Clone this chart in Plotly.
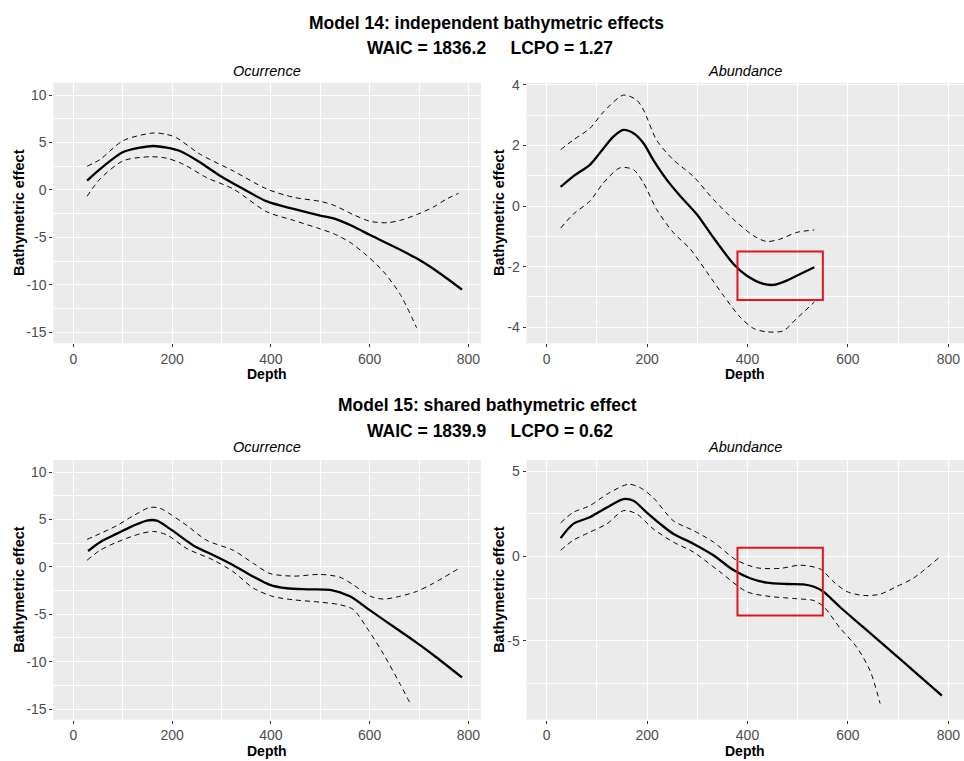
import plotly.graph_objects as go

W, H = 964, 761

# ---------------- data ----------------
# Model 14 - Ocurrence
m14_occ_mean_x = [28, 54, 101, 135, 162, 189, 216, 257, 297, 338, 392, 446, 500, 527, 567, 601, 662, 695, 729, 756, 787]
m14_occ_mean_y = [0.98, 2.2, 4.0, 4.46, 4.63, 4.46, 4.1, 2.9, 1.5, 0.28, -1.2, -2.0, -2.7, -3.0, -3.85, -4.75, -6.3, -7.2, -8.3, -9.3, -10.5]
m14_occ_up_x = [28, 54, 101, 162, 189, 209, 257, 324, 392, 446, 500, 527, 567, 601, 635, 662, 695, 729, 756, 780]
m14_occ_up_y = [2.5, 3.2, 5.2, 6.0, 5.85, 5.5, 3.76, 2.0, 0.1, -0.77, -1.2, -1.6, -2.6, -3.3, -3.45, -3.2, -2.6, -1.8, -0.95, -0.35]
m14_occ_lo_x = [28, 54, 101, 155, 189, 223, 270, 324, 392, 446, 500, 527, 560, 594, 628, 662, 695]
m14_occ_lo_y = [-0.66, 1.15, 3.07, 3.5, 3.35, 2.7, 1.3, 0.1, -2.3, -3.2, -4.1, -4.6, -5.5, -6.9, -8.6, -11.0, -14.5]

# Model 14 - Abundance
m14_abu_mean_x = [28, 53, 86, 106, 133, 153, 173, 193, 212, 239, 266, 299, 332, 372, 398, 432, 452, 478, 505, 533]
m14_abu_mean_y = [0.63, 0.98, 1.36, 1.75, 2.29, 2.51, 2.4, 2.07, 1.53, 0.87, 0.33, -0.27, -1.04, -1.91, -2.29, -2.57, -2.6, -2.46, -2.24, -2.02]
m14_abu_up_x = [28, 53, 86, 113, 153, 179, 193, 219, 252, 292, 332, 372, 412, 438, 465, 498, 533]
m14_abu_up_y = [1.86, 2.18, 2.56, 3.1, 3.66, 3.5, 3.17, 2.18, 1.53, 0.98, 0.22, -0.44, -0.98, -1.17, -1.09, -0.87, -0.79]
m14_abu_lo_x = [28, 53, 86, 113, 146, 173, 193, 219, 252, 286, 319, 352, 385, 412, 438, 471, 498, 533]
m14_abu_lo_y = [-0.73, -0.27, 0.16, 0.76, 1.26, 1.2, 0.76, -0.11, -0.87, -1.42, -2.18, -2.95, -3.66, -4.04, -4.15, -4.12, -3.71, -3.17]

# Model 15 - Ocurrence
m15_occ_mean_x = [30, 54, 88, 122, 149, 169, 196, 243, 284, 324, 365, 398, 432, 473, 520, 560, 601, 648, 695, 729, 787]
m15_occ_mean_y = [1.67, 2.6, 3.5, 4.35, 4.88, 4.88, 4.0, 2.26, 1.22, 0.17, -1.05, -1.9, -2.26, -2.37, -2.44, -3.1, -4.6, -6.3, -8.0, -9.3, -11.67]
m15_occ_up_x = [28, 54, 88, 122, 155, 176, 196, 230, 270, 324, 365, 398, 446, 500, 540, 567, 601, 628, 662, 695, 729, 783]
m15_occ_up_y = [2.9, 3.5, 4.35, 5.4, 6.27, 6.17, 5.57, 4.36, 2.8, 1.74, 0.35, -0.7, -0.98, -0.8, -1.1, -1.9, -3.1, -3.4, -3.1, -2.6, -1.74, -0.1]
m15_occ_lo_x = [28, 54, 88, 135, 162, 189, 230, 284, 324, 365, 405, 446, 500, 540, 567, 594, 628, 662, 684]
m15_occ_lo_y = [0.7, 1.74, 2.6, 3.48, 3.73, 3.38, 1.92, 0.7, -0.52, -2.26, -3.14, -3.48, -3.73, -4.0, -4.5, -6.4, -9.2, -12.4, -14.6]

# Model 15 - Abundance
m15_abu_mean_x = [28, 53, 86, 120, 153, 173, 199, 226, 252, 292, 332, 372, 405, 438, 478, 511, 531, 551, 584, 631, 697, 730, 787]
m15_abu_mean_y = [1.07, 1.91, 2.3, 2.88, 3.37, 3.27, 2.59, 1.91, 1.33, 0.74, 0.06, -0.82, -1.3, -1.56, -1.64, -1.66, -1.79, -2.09, -3.0, -4.2, -5.9, -6.75, -8.23]
m15_abu_up_x = [28, 53, 86, 120, 163, 186, 212, 252, 292, 332, 378, 418, 465, 505, 545, 571, 598, 631, 664, 697, 730, 783]
m15_abu_up_y = [1.97, 2.59, 2.98, 3.66, 4.25, 4.05, 3.47, 2.1, 1.52, 0.84, -0.23, -0.68, -0.72, -0.53, -0.76, -1.5, -2.09, -2.32, -2.24, -1.79, -1.3, -0.04]
m15_abu_lo_x = [28, 53, 86, 120, 153, 179, 212, 252, 292, 345, 398, 445, 498, 531, 551, 584, 618, 644, 664]
m15_abu_lo_y = [0.35, 0.94, 1.42, 1.91, 2.69, 2.5, 1.62, 0.84, 0.25, -0.92, -2.09, -2.38, -2.51, -2.61, -2.96, -4.23, -5.4, -6.76, -8.7]

# highlighted regions (x0, x1, y0, y1)
m14_box = [380, 550, -3.1, -1.5]
m15_box = [380, 550, -3.5, 0.5]

# tick labels
x_ticks = [0, 200, 400, 600, 800]
occ_y_ticks = [-15, -10, -5, 0, 5, 10]
m14_abu_y_ticks = [-4, -2, 0, 2, 4]
m15_abu_y_ticks = [-5, 0, 5]

titles = {
    "m14": "Model 14: independent bathymetric effects",
    "m14s": "WAIC = 1836.2\u00a0\u00a0\u00a0\u00a0\u00a0LCPO = 1.27",
    "m15": "Model 15: shared bathymetric effect",
    "m15s": "WAIC = 1839.9\u00a0\u00a0\u00a0\u00a0\u00a0LCPO = 0.62",
}

# ---------------- figure ----------------
FONT = "Liberation Sans, Arial, sans-serif"
fig = go.Figure()

def px_x(p):
    return p / W

def px_y(p):
    return 1 - p / H

panels = [
    ("", (53.3, 481), (77.3, 340), [-40.5, 825.5], [-16.15, 11.3], occ_y_ticks, 2.5),
    ("2", (526.5, 964), (77.3, 340), [-40, 831], [-4.53, 4.07], m14_abu_y_ticks, 1),
    ("3", (53.3, 481), (457.8, 719.3), [-40.5, 825.5], [-16.12, 11.25], occ_y_ticks, 2.5),
    ("4", (526.5, 964), (457.8, 719.3), [-40, 831], [-9.65, 5.67], m15_abu_y_ticks, 2.5),
]

series = [
    (m14_occ_mean_x, m14_occ_mean_y, m14_occ_up_x, m14_occ_up_y, m14_occ_lo_x, m14_occ_lo_y),
    (m14_abu_mean_x, m14_abu_mean_y, m14_abu_up_x, m14_abu_up_y, m14_abu_lo_x, m14_abu_lo_y),
    (m15_occ_mean_x, m15_occ_mean_y, m15_occ_up_x, m15_occ_up_y, m15_occ_lo_x, m15_occ_lo_y),
    (m15_abu_mean_x, m15_abu_mean_y, m15_abu_up_x, m15_abu_up_y, m15_abu_lo_x, m15_abu_lo_y),
]

layout = {}
for (suf, xd, yd, xr, yr, yt, ymin), s in zip(panels, series):
    xa = "xaxis" + suf
    ya = "yaxis" + suf
    layout[xa] = dict(
        domain=[px_x(xd[0]), px_x(xd[1])], range=xr, anchor="y" + suf,
        tickvals=x_ticks, ticktext=[str(v) for v in x_ticks],
        showgrid=True, gridcolor="white", gridwidth=1.1,
        minor=dict(dtick=100, tick0=0, showgrid=True, gridcolor="white", gridwidth=0.55),
        zeroline=False, showline=False,
        ticks="outside", ticklen=3, tickwidth=1, tickcolor="#333333",
        tickfont=dict(family=FONT, size=14, color="#4D4D4D"),
        fixedrange=True,
    )
    layout[ya] = dict(
        domain=[px_y(yd[1]), px_y(yd[0])], range=yr, anchor="x" + suf,
        tickvals=yt, ticktext=[str(v) for v in yt],
        showgrid=True, gridcolor="white", gridwidth=1.1,
        minor=dict(dtick=ymin, tick0=0, showgrid=True, gridcolor="white", gridwidth=0.55),
        zeroline=False, showline=False,
        ticks="outside", ticklen=3, tickwidth=1, tickcolor="#333333",
        tickfont=dict(family=FONT, size=14, color="#4D4D4D"),
        fixedrange=True,
    )
    xs, ys = "x" + suf, "y" + suf
    mx, my, ux, uy, lx, ly = s
    fig.add_trace(go.Scatter(x=ux, y=uy, xaxis=xs, yaxis=ys, mode="lines",
                             line=dict(color="black", width=1, dash="5px,4px", shape="spline", smoothing=0.8),
                             showlegend=False, hoverinfo="skip"))
    fig.add_trace(go.Scatter(x=lx, y=ly, xaxis=xs, yaxis=ys, mode="lines",
                             line=dict(color="black", width=1, dash="5px,4px", shape="spline", smoothing=0.8),
                             showlegend=False, hoverinfo="skip"))
    fig.add_trace(go.Scatter(x=mx, y=my, xaxis=xs, yaxis=ys, mode="lines",
                             line=dict(color="black", width=2.3, shape="spline", smoothing=0.8),
                             showlegend=False, hoverinfo="skip"))

shapes = []
for suf, box in [("2", m14_box), ("4", m15_box)]:
    shapes.append(dict(type="rect", xref="x" + suf, yref="y" + suf,
                       x0=box[0], x1=box[1], y0=box[2], y1=box[3],
                       line=dict(color="#E0161C", width=2), fillcolor="rgba(0,0,0,0)"))

ann = []
def text(t, x, y, size, angle=0):
    ann.append(dict(text=t, x=px_x(x), y=px_y(y), xref="paper", yref="paper",
                    xanchor="center", yanchor="middle", showarrow=False, textangle=angle,
                    font=dict(family=FONT, size=size, color="black")))

text("<b>" + titles["m14"] + "</b>", 486, 17, 17.5)
text("<b>" + titles["m14s"] + "</b>", 489.5, 42, 17.5)
text("<b>" + titles["m15"] + "</b>", 487, 402, 17.5)
text("<b>" + titles["m15s"] + "</b>", 490, 428.5, 17.5)

for y_sub, y_depth, y_mid in [(66, 371, 208.7), (445, 751, 588.5)]:
    text("<i>Ocurrence</i>", 267, y_sub, 14.5)
    text("<i>Abundance</i>", 745, y_sub, 14.5)
    text("<b>Depth</b>", 267, y_depth, 14)
    text("<b>Depth</b>", 745, y_depth, 14)
    text("<b>Bathymetric effect</b>", 19, y_mid, 14.5, -90)
    text("<b>Bathymetric effect</b>", 499, y_mid, 14.5, -90)

fig.update_layout(
    width=W, height=H, margin=dict(l=0, r=0, t=0, b=0),
    paper_bgcolor="white", plot_bgcolor="#EBEBEB",
    showlegend=False, shapes=shapes, annotations=ann,
    font=dict(family=FONT),
    **layout,
)

fig.write_html("out.html")
